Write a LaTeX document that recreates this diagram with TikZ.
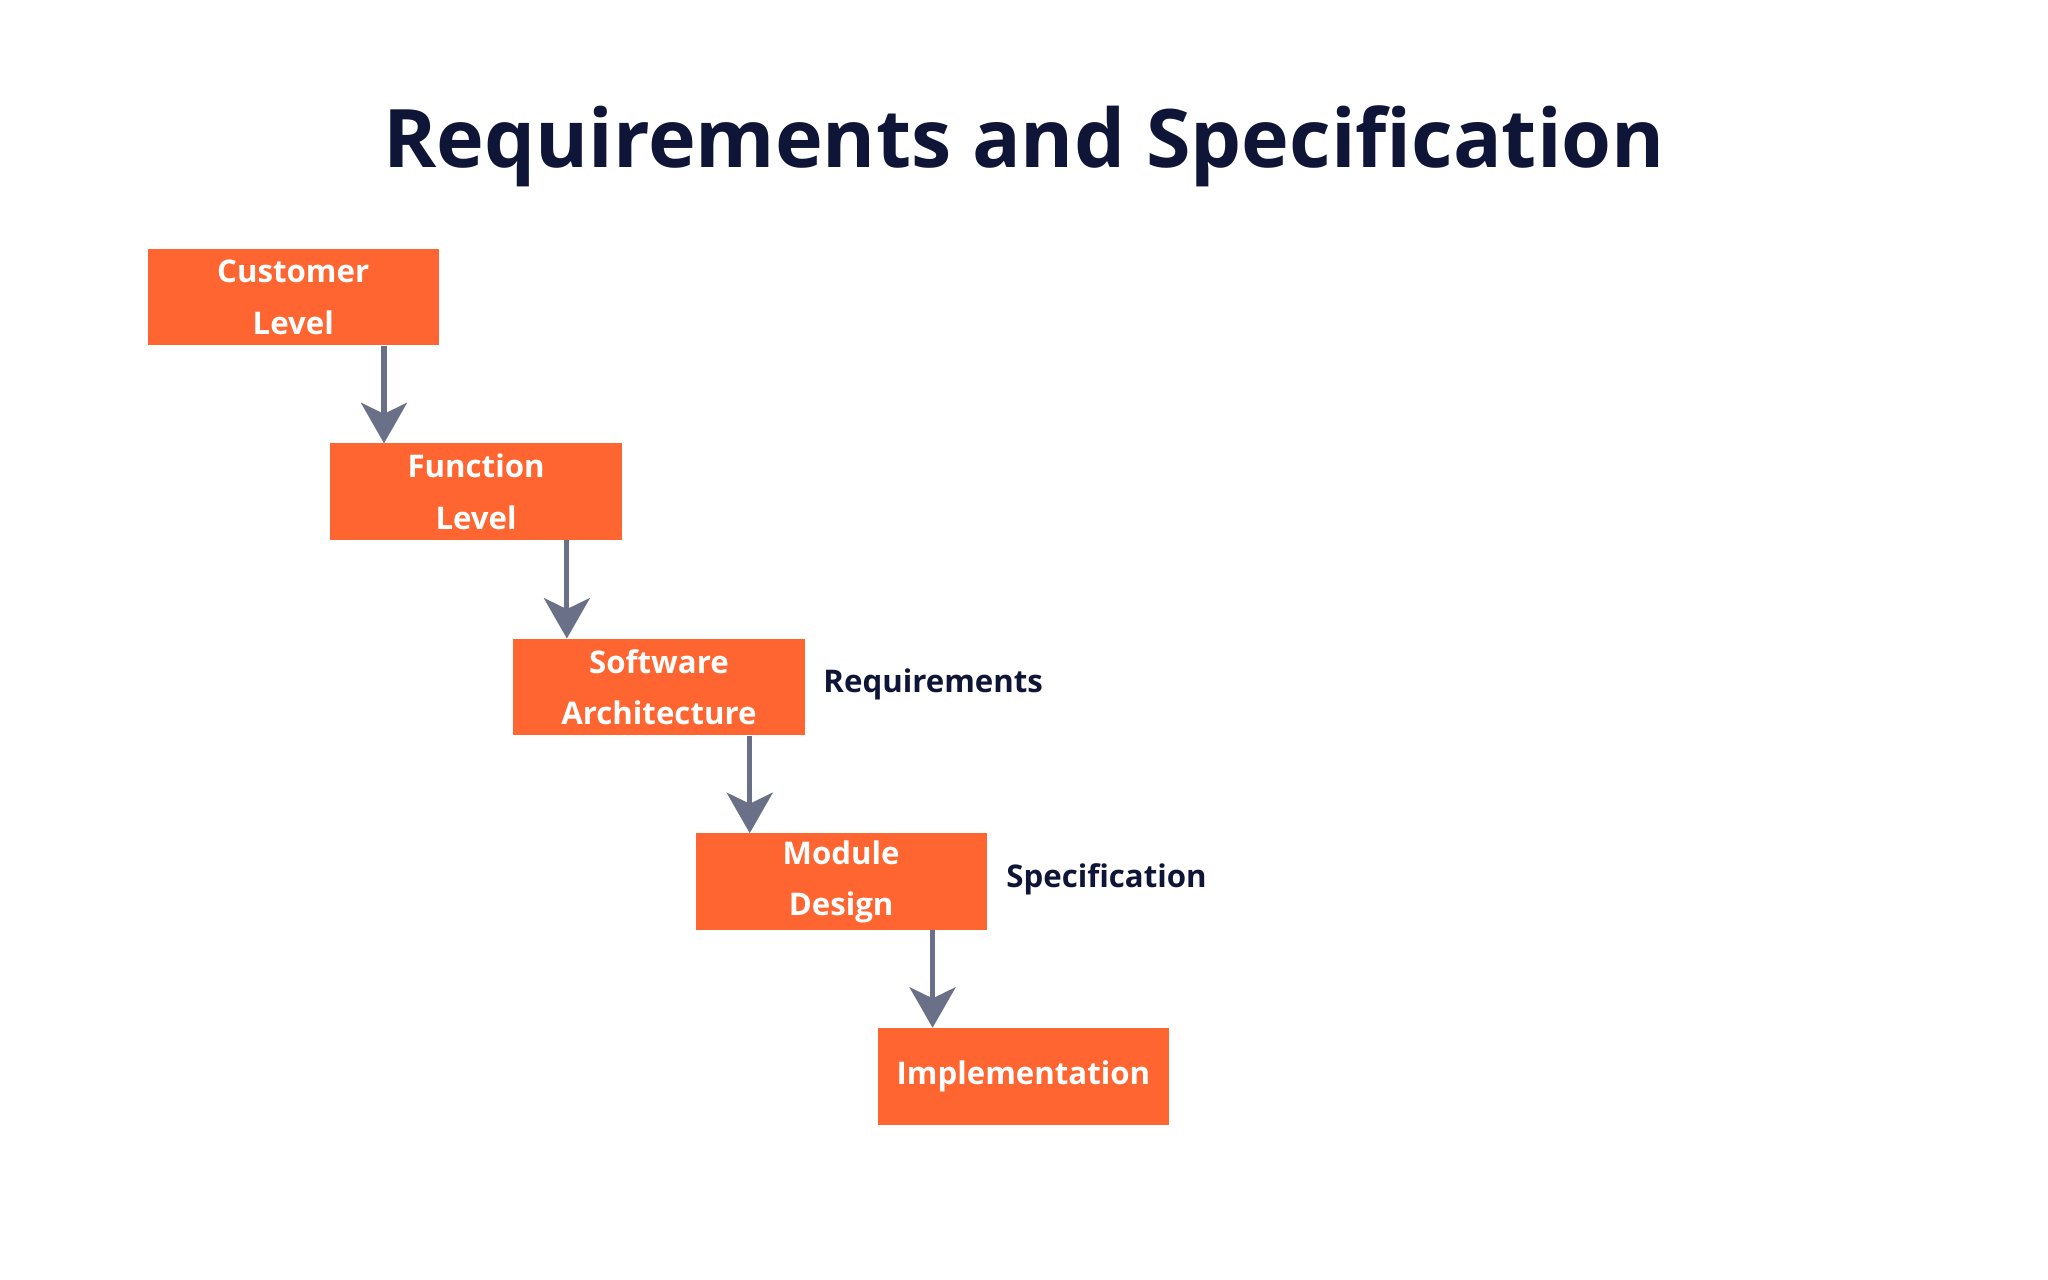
\documentclass[tikz,border=0pt]{standalone}
\usepackage{fontspec}
\setmainfont{Open Sans}
\usetikzlibrary{arrows.meta}
\definecolor{boxor}{HTML}{FF6530}
\definecolor{arrg}{HTML}{6B7089}
\definecolor{navy}{HTML}{0F1536}
\begin{document}
\begin{tikzpicture}[x=0.05cm,y=-0.05cm,
  stage/.style={fill=boxor,draw=none,minimum width=223*0.05cm,minimum height=74*0.05cm,inner sep=0pt,align=center,text=white,font=\fontsize{34}{56}\selectfont\bfseries},
  conn/.style={draw=arrg,line width=5.5pt,-{Stealth[length=44pt,width=50pt,inset=12pt]}},
  side/.style={anchor=west,text=navy,font=\fontsize{34}{40}\selectfont\bfseries}]
\fill[white] (0,0) rectangle (1568,980);
\useasboundingbox (0,0) rectangle (1568,980);
\node[text=navy,font=\fontsize{88}{100}\selectfont\bfseries] (title) at (784,112) {Requirements and Specification};
\node[stage] (c) at (224.5,227.5) {Customer\\Level};
\node[stage] (f) at (364.5,376.5) {Function\\Level};
\node[stage] (s) at (504.5,526) {Software\\Architecture};
\node[stage] (m) at (644,675) {Module\\Design};
\node[stage] (i) at (783.5,824) {Implementation};
\draw[conn] (c.south -| 294,0) -- (f.north -| 294,0);
\draw[conn] (f.south -| 434,0) -- (s.north -| 434,0);
\draw[conn] (s.south -| 574,0) -- (m.north -| 574,0);
\draw[conn] (m.south -| 714,0) -- (i.north -| 714,0);
\node[side] (rq) at (628,524) {Requirements};
\node[side] (sp) at (768,673) {Specification};
\end{tikzpicture}
\end{document}
